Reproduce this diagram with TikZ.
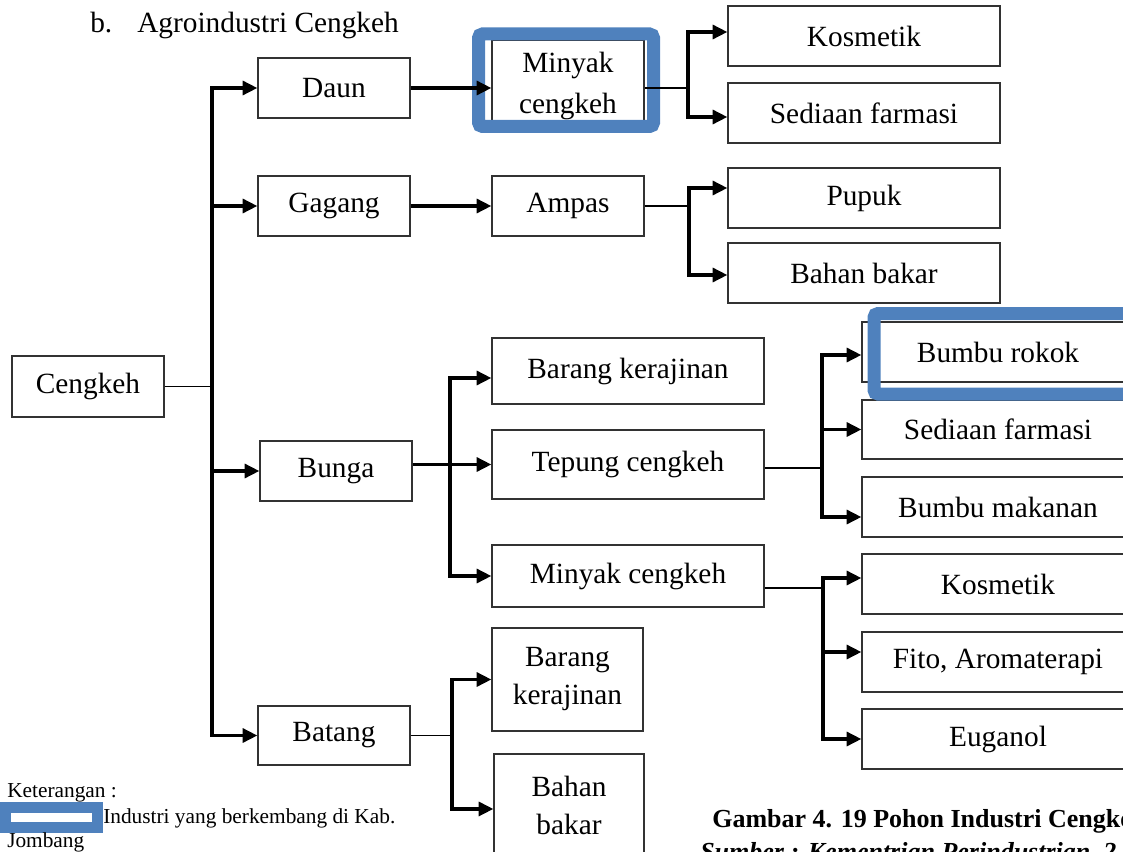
\documentclass[tikz,border=0pt]{standalone}
\usepackage{fontspec}
\setmainfont{Liberation Serif}
\usetikzlibrary{arrows.meta}
\definecolor{hlblue}{RGB}{79,129,189}
\definecolor{edge}{RGB}{50,50,50}

\tikzset{
  box/.style={draw=edge, line width=1pt, inner sep=0pt, align=center,
              font=\fontsize{22}{30}\selectfont},
  thin/.style={line width=1.1pt, black},
  thk/.style={line width=2.3pt, black, line cap=rect},
  arr/.style={line width=2.3pt, black, -{Triangle[length=11pt,width=10.5pt]}},
  hl/.style={draw=hlblue, line width=9.75pt, rounded corners=3pt},
  lbl/.style={anchor=base west, inner sep=0pt},
}
% a box node given by its corners: x1 y1 x2 y2 options name
\newcommand{\boxat}[6]{%
  \node[box, minimum width={(#3-#1)*0.75pt}, minimum height={(#4-#2)*0.75pt}, #5]
    (#6) at ({(#1+#3)/2},{(#2+#4)/2})}

\begin{document}
\begin{tikzpicture}[x=0.75pt, y=-0.75pt]
\path[use as bounding box] (0,0) rectangle (1123,852);
\clip (0,0) rectangle (1123,852);

% heading
\node[lbl, font=\fontsize{22}{26}\selectfont] (hb) at (90,33) {b.};
\node[lbl, font=\fontsize{22}{26}\selectfont] (ht) at (137,33) {Agroindustri Cengkeh};

% root and first level
\boxat{12}{356}{164}{417}{}{cengkeh} {Cengkeh};
\boxat{258}{58}{410}{118}{}{daun} {Daun};
\boxat{258}{176}{410}{236}{}{gagang} {Gagang};
\boxat{260}{441}{412}{501}{}{bunga} {Bunga};
\boxat{258}{706}{410}{765}{}{batang} {Batang};

% second level
\boxat{492}{40}{644}{132}{font=\fontsize{22}{30.75}\selectfont}{mc1} {Minyak\\cengkeh};
\boxat{492}{176}{644}{236}{}{ampas} {Ampas};
\boxat{492}{338}{764}{404}{}{barang1} {Barang kerajinan};
\boxat{492}{430}{764}{499}{}{tepung} {Tepung cengkeh};
\boxat{492}{545}{764}{607}{}{mc2} {Minyak cengkeh};
\boxat{492}{628}{643}{731}{font=\fontsize{22}{28.5}\selectfont}{barang2} {Barang\\kerajinan};
\boxat{494}{754}{644}{857}{font=\fontsize{22}{28.5}\selectfont}{bahan2} {Bahan\\bakar};

% third level
\boxat{728}{6}{1000}{66}{}{kos1} {Kosmetik};
\boxat{728}{83}{1000}{143}{}{sed1} {Sediaan farmasi};
\boxat{728}{168}{1000}{228}{}{pupuk} {Pupuk};
\boxat{728}{243}{1000}{303}{}{bahan1} {Bahan bakar};
\boxat{862}{322}{1134}{382}{}{rokok} {Bumbu rokok};
\boxat{862}{400}{1134}{459}{}{sed2} {Sediaan farmasi};
\boxat{862}{477}{1134}{537}{}{makanan} {Bumbu makanan};
\boxat{862}{554}{1134}{614}{}{kos2} {Kosmetik};
\boxat{862}{632}{1134}{692}{}{fito} {Fito, Aromaterapi};
\boxat{862}{709}{1134}{769}{}{euganol} {Euganol};

% highlight frames
\draw[hl] (478.5,34) rectangle (653.5,126.5);
\draw[hl] (874,313.5) rectangle (1130,394);

% branch columns
\coordinate (T)  at (212,0);
\coordinate (B1) at (688,0);
\coordinate (B2) at (689,0);
\coordinate (B3) at (450,0);
\coordinate (B4) at (822,0);
\coordinate (B5) at (823,0);
\coordinate (B6) at (452,0);

% arrow end points on the boxes
\coordinate (eKos1) at ([yshift=3pt]kos1.west);
\coordinate (eSed1) at ([yshift=-3pt]sed1.west);
\coordinate (ePupuk) at ([yshift=7.5pt]pupuk.west);
\coordinate (eBahan1) at ([yshift=-1.5pt]bahan1.west);
\coordinate (eBarang1) at ([yshift=-5.25pt]barang1.west);
\coordinate (eRokok) at ([yshift=-2.25pt]rokok.west);
\coordinate (eMakanan) at ([yshift=-7.5pt]makanan.west);
\coordinate (eKos2) at ([yshift=4.5pt]kos2.west);
\coordinate (eFito) at ([yshift=7.5pt]fito.west);
\coordinate (eBahan2) at ([yshift=-2.6pt]bahan2.west);
\coordinate (oTepung) at ([yshift=-2.6pt]tepung.east);
\coordinate (oMc2) at ([yshift=-9pt]mc2.east);

% Cengkeh -> first level
\draw[thin] (cengkeh.east) -- (T |- cengkeh.east);
\draw[thk] (T |- daun.west) -- (T |- batang.west);
\draw[arr] (T |- daun.west) -- (daun.west);
\draw[arr] (T |- gagang.west) -- (gagang.west);
\draw[arr] (T |- bunga.west) -- (bunga.west);
\draw[arr] (T |- batang.west) -- (batang.west);

% Daun
\draw[arr] (daun.east) -- (mc1.west |- daun.east);
\draw[thin] (mc1.east |- daun.east) -- (B1 |- daun.east);
\draw[thk] (B1 |- eKos1) -- (B1 |- eSed1);
\draw[arr] (B1 |- eKos1) -- (eKos1);
\draw[arr] (B1 |- eSed1) -- (eSed1);

% Gagang
\draw[arr] (gagang.east) -- (ampas.west);
\draw[thin] (ampas.east) -- (B2 |- ampas.east);
\draw[thk] (B2 |- ePupuk) -- (B2 |- eBahan1);
\draw[arr] (B2 |- ePupuk) -- (ePupuk);
\draw[arr] (B2 |- eBahan1) -- (eBahan1);

% Bunga
\draw[arr] (bunga.east |- tepung.west) -- (tepung.west);
\draw[thk] (B3 |- eBarang1) -- (B3 |- mc2.west);
\draw[arr] (B3 |- eBarang1) -- (eBarang1);
\draw[arr] (B3 |- mc2.west) -- (mc2.west);

% Tepung cengkeh
\draw[thin] (oTepung) -- (B4 |- oTepung);
\draw[thk] (B4 |- eRokok) -- (B4 |- eMakanan);
\draw[arr] (B4 |- eRokok) -- (eRokok);
\draw[arr] (B4 |- sed2.west) -- (sed2.west);
\draw[arr] (B4 |- eMakanan) -- (eMakanan);

% Minyak cengkeh
\draw[thin] (oMc2) -- (B5 |- oMc2);
\draw[thk] (B5 |- eKos2) -- (B5 |- euganol.west);
\draw[arr] (B5 |- eKos2) -- (eKos2);
\draw[arr] (B5 |- eFito) -- (eFito);
\draw[arr] (B5 |- euganol.west) -- (euganol.west);

% Batang
\draw[thin] (batang.east) -- (B6 |- batang.east);
\draw[thk] (B6 |- barang2.west) -- (B6 |- eBahan2);
\draw[arr] (B6 |- barang2.west) -- (barang2.west);
\draw[arr] (B6 |- eBahan2) -- (eBahan2);

% legend
\fill[hlblue] (0,802) rectangle (103,833);
\fill[white] (11,813) rectangle (92,822);
\node[lbl, font=\fontsize{16}{18}\selectfont] (k1) at (7,797) {Keterangan :};
\node[lbl, font=\fontsize{16}{18}\selectfont] (k2) at (103,823) {Industri yang berkembang di Kab.};
\node[lbl, font=\fontsize{16}{18}\selectfont] (k3) at (7,847) {Jombang};

% caption
\node[lbl, font=\fontsize{19.5}{22}\selectfont\bfseries] (cap) at (712,827) {Gambar 4. 19 Pohon Industri Cengkeh};
\node[lbl, font=\fontsize{19.5}{22}\selectfont\bfseries\itshape] (src) at (700,860) {Sumber : Kementrian Perindustrian, 2};
\end{tikzpicture}
\end{document}
